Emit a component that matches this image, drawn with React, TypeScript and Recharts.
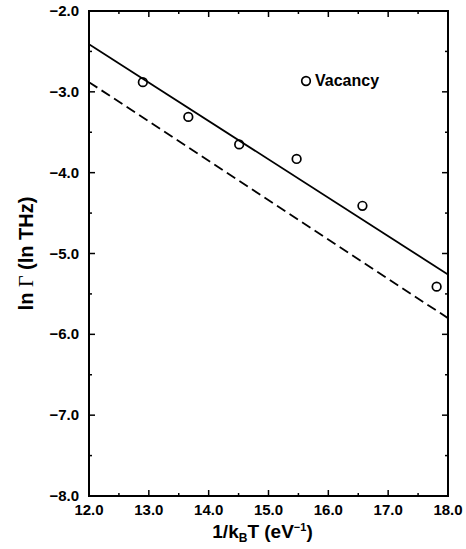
import React from 'react';
import { ComposedChart, XAxis, YAxis, Line, Scatter, ReferenceArea, Legend } from 'recharts';

// measured points (1/kBT in eV^-1, ln Gamma in ln THz)
const vacancyX = [12.9, 13.66, 14.51, 15.47, 16.57, 17.81];
const vacancyY = [-2.88, -3.31, -3.65, -3.83, -4.41, -5.41];

// fit lines, endpoints at the axis limits
const fitX = [12, 18];
const solidFitY = [-2.41, -5.26];
const dashedFitY = [-2.88, -5.8];

const xTicks = [12, 12.5, 13, 13.5, 14, 14.5, 15, 15.5, 16, 16.5, 17, 17.5, 18];
const yTicks = [-8, -7.5, -7, -6.5, -6, -5.5, -5, -4.5, -4, -3.5, -3, -2.5, -2];

const W = 466;
const H = 549;
const M = { top: 11, right: 18, bottom: 23, left: 29 };
const X_AXIS_H = 30;
const Y_AXIS_W = 60;
const PLOT_TOP = M.top;
const PLOT_RIGHT = W - M.right;
const FONT = '"Liberation Sans", Arial, Helvetica, sans-serif';

const vacancyData = vacancyX.map((x, i) => ({ x, y: vacancyY[i] }));
const solidData = fitX.map((x, i) => ({ x, y: solidFitY[i] }));
const dashedData = fitX.map((x, i) => ({ x, y: dashedFitY[i] }));

const fmt = (v: number) => v.toFixed(1).replace('-', '\u2212');
const isMajor = (v: number) => Math.abs(v - Math.round(v)) < 1e-6;

const XTick = (props: any) => {
  const { x, y, payload } = props;
  const v = payload.value;
  const len = isMajor(v) ? 6 : 3;
  return (
    <g>
      <line x1={x} x2={x} y1={y} y2={y - len} stroke="#000" strokeWidth={1.5} />
      <line x1={x} x2={x} y1={PLOT_TOP} y2={PLOT_TOP + len} stroke="#000" strokeWidth={1.5} />
      {isMajor(v) && (
        <text x={x} y={y + 19} textAnchor="middle" fontFamily={FONT} fontWeight="bold" fontSize={15} fill="#000">
          {fmt(v)}
        </text>
      )}
    </g>
  );
};

const YTick = (props: any) => {
  const { x, y, payload } = props;
  const v = payload.value;
  const len = isMajor(v) ? 6 : 3;
  return (
    <g>
      <line x1={x} x2={x + len} y1={y} y2={y} stroke="#000" strokeWidth={1.5} />
      <line x1={PLOT_RIGHT} x2={PLOT_RIGHT - len} y1={y} y2={y} stroke="#000" strokeWidth={1.5} />
      {isMajor(v) && (
        <text x={x - 10} y={y + 5} textAnchor="end" fontFamily={FONT} fontWeight="bold" fontSize={15} fill="#000">
          {fmt(v)}
        </text>
      )}
    </g>
  );
};

const XTitle = (props: any) => {
  const vb = props.viewBox;
  const cx = vb.x + vb.width / 2 - 6;
  return (
    <text x={cx} y={vb.y + 42} textAnchor="middle" fontFamily={FONT} fontWeight="bold" fontSize={19} fill="#000">
      1/k<tspan dy={4} fontSize={12}>B</tspan>
      <tspan dy={-4}>T (eV</tspan>
      <tspan dy={-7} fontSize={11}>{'\u22121'}</tspan>
      <tspan dy={7}>)</tspan>
    </text>
  );
};

const YTitle = (props: any) => {
  const vb = props.viewBox;
  const cy = vb.y + vb.height / 2;
  const tx = 33;
  return (
    <text x={tx} y={cy} transform={`rotate(-90, ${tx}, ${cy})`} textAnchor="middle" fontFamily={FONT} fontWeight="bold" fontSize={20} fill="#000">
      ln <tspan fontFamily='"Liberation Serif", serif' fontWeight="normal">{'\u0393'}</tspan> (ln THz)
    </text>
  );
};

const Circle = (props: any) => (
  <circle cx={props.cx} cy={props.cy} r={4.3} fill="none" stroke="#000" strokeWidth={1.7} />
);

const LegendBox = () => (
  <div style={{ display: 'flex', alignItems: 'center', fontFamily: FONT, fontWeight: 'bold', fontSize: 16 }}>
    <svg width={12} height={12} style={{ marginRight: 3 }}>
      <circle cx={6} cy={6} r={4.3} fill="none" stroke="#000" strokeWidth={1.7} />
    </svg>
    <span>Vacancy</span>
  </div>
);

export default function App() {
  return (
    <div style={{ position: 'absolute', left: 0, top: 0, background: '#fff' }}>
      <ComposedChart width={W} height={H} margin={M}>
        <XAxis
          dataKey="x"
          type="number"
          domain={[12, 18]}
          ticks={xTicks}
          interval={0}
          allowDataOverflow
          height={X_AXIS_H}
          axisLine={false}
          tickLine={false}
          tickSize={0}
          tickMargin={0}
          tick={<XTick />}
          label={<XTitle />}
        />
        <YAxis
          type="number"
          domain={[-8, -2]}
          ticks={yTicks}
          interval={0}
          allowDataOverflow
          width={Y_AXIS_W}
          axisLine={false}
          tickLine={false}
          tickSize={0}
          tickMargin={0}
          tick={<YTick />}
          label={<YTitle />}
        />
        <ReferenceArea x1={12} x2={18} y1={-8} y2={-2} fill="none" stroke="#000" strokeWidth={2} fillOpacity={0} />
        <Line data={solidData} dataKey="y" type="linear" stroke="#000" strokeWidth={1.8} dot={false} isAnimationActive={false} legendType="none" />
        <Line data={dashedData} dataKey="y" type="linear" stroke="#000" strokeWidth={1.8} strokeDasharray="10 5" dot={false} isAnimationActive={false} legendType="none" />
        <Scatter data={vacancyData} dataKey="y" name="Vacancy" shape={<Circle />} isAnimationActive={false} />
        <Legend
          layout="horizontal"
          verticalAlign="middle"
          align="center"
          content={<LegendBox />}
          wrapperStyle={{ position: 'absolute', left: 300, top: 72, width: 'auto', height: 'auto' }}
        />
      </ComposedChart>
    </div>
  );
}
